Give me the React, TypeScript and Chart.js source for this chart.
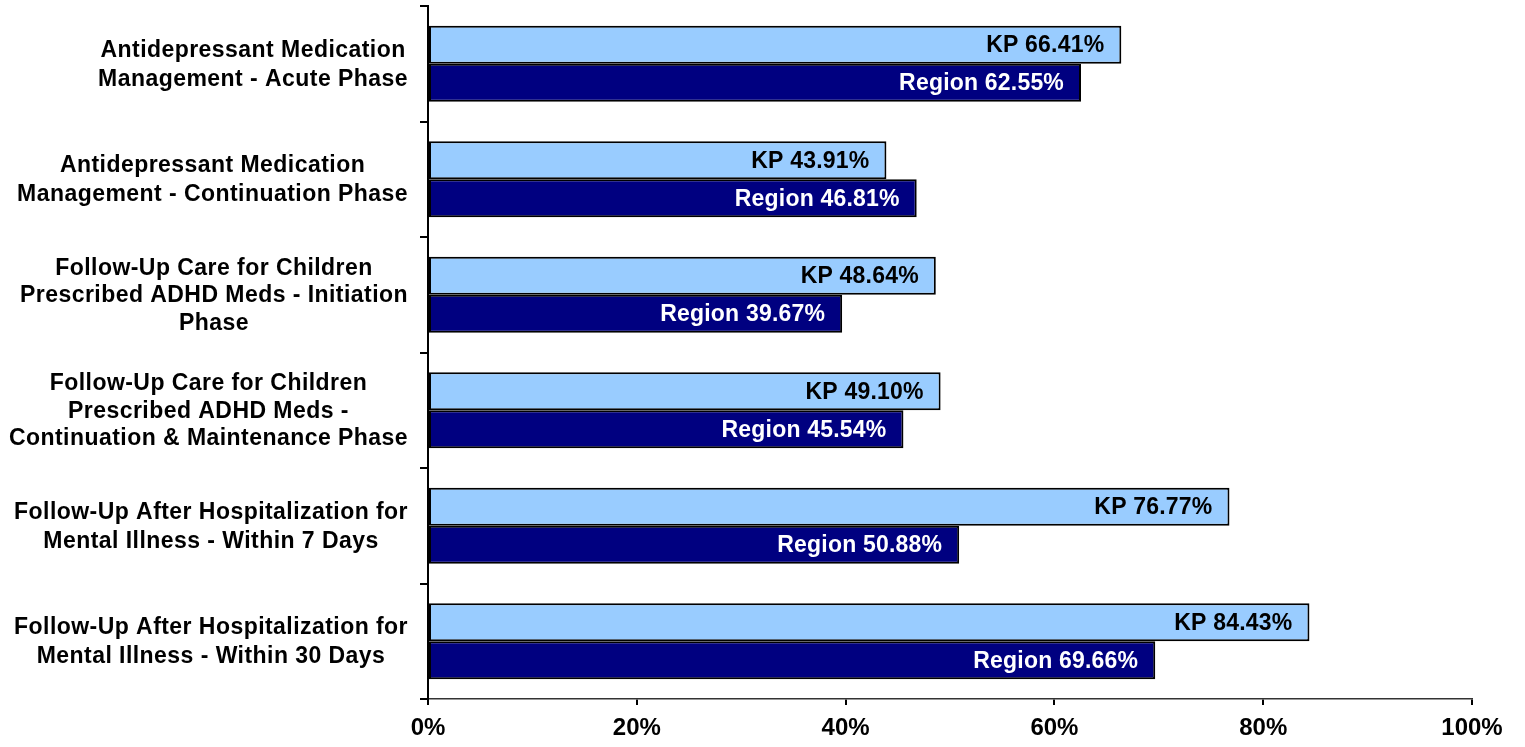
import React, { useEffect, useRef } from "react";
import { Chart, registerables } from "chart.js";

Chart.register(...registerables);

const categories: string[][] = [
  ["Antidepressant Medication", "Management - Acute Phase"],
  ["Antidepressant Medication", "Management - Continuation Phase"],
  ["Follow-Up Care for Children", "Prescribed ADHD Meds - Initiation", "Phase"],
  ["Follow-Up Care for Children", "Prescribed ADHD Meds -", "Continuation & Maintenance Phase"],
  ["Follow-Up After Hospitalization for", "Mental Illness - Within 7 Days"],
  ["Follow-Up After Hospitalization for", "Mental Illness - Within 30 Days"],
];

const kpValues = [66.41, 43.91, 48.64, 49.1, 76.77, 84.43];
const regionValues = [62.55, 46.81, 39.67, 45.54, 50.88, 69.66];
const seriesNames = ["KP", "Region"];
const xTicks = [0, 20, 40, 60, 80, 100];

const FONT = '"Liberation Sans", Arial, sans-serif';

const labelPlugin = {
  id: "customLabels",
  afterDatasetsDraw(chart: any) {
    const ctx = chart.ctx;
    ctx.save();
    ctx.font = `bold 23px ${FONT}`;
    try {
      (ctx as any).letterSpacing = "0.2px";
    } catch (e) {}
    ctx.textAlign = "right";
    ctx.textBaseline = "middle";
    chart.data.datasets.forEach((ds: any, di: number) => {
      const meta = chart.getDatasetMeta(di);
      meta.data.forEach((el: any, i: number) => {
        const v = ds.data[i] as number;
        ctx.fillStyle = di === 0 ? "#000000" : "#ffffff";
        ctx.fillText(`${seriesNames[di]} ${v.toFixed(2)}%`, el.x - 17, el.y + 1);
      });
    });
    ctx.restore();
  },
  afterDraw(chart: any) {
    const ctx = chart.ctx;
    const yScale = chart.scales.y;
    ctx.save();
    ctx.font = `bold 23px ${FONT}`;
    try {
      (ctx as any).letterSpacing = "0.45px";
    } catch (e) {}
    ctx.textAlign = "center";
    ctx.textBaseline = "middle";
    ctx.fillStyle = "#000000";
    categories.forEach((lines, i) => {
      const cy = yScale.getPixelForValue(i);
      const maxW = Math.max(...lines.map((l) => ctx.measureText(l).width));
      const cx = 408 - maxW / 2;
      const lh = lines.length === 3 ? 27.5 : 29;
      const startY = cy - ((lines.length - 1) * lh) / 2;
      lines.forEach((l, k) => {
        ctx.fillText(l, cx, startY + k * lh + 1);
      });
    });
    ctx.restore();
  },
};

export default function App() {
  const ref = useRef<HTMLCanvasElement | null>(null);

  useEffect(() => {
    if (!ref.current) return;
    const chart = new Chart(ref.current, {
      type: "bar",
      data: {
        labels: categories.map((c) => c.join(" ")),
        datasets: [
          {
            label: seriesNames[0],
            data: kpValues,
            backgroundColor: "#99CCFF",
            borderColor: "#000000",
            borderWidth: 2,
            borderSkipped: false,
            categoryPercentage: 0.658,
            barPercentage: 1,
          },
          {
            label: seriesNames[1],
            data: regionValues,
            backgroundColor: "#000080",
            borderColor: "#000000",
            borderWidth: 2,
            borderSkipped: false,
            categoryPercentage: 0.658,
            barPercentage: 1,
          },
        ],
      },
      options: {
        indexAxis: "y",
        animation: false,
        responsive: true,
        maintainAspectRatio: false,
        layout: { padding: { left: 0, top: 6, right: 53, bottom: 0 } },
        plugins: {
          legend: { display: false },
          tooltip: { enabled: false },
        },
        scales: {
          x: {
            min: 0,
            max: 100,
            afterBuildTicks: (scale: any) => {
              scale.ticks = xTicks.map((v) => ({ value: v }));
            },
            afterFit: (scale: any) => {
              scale.height = 48;
            },
            ticks: {
              callback: (v: any) => `${v}%`,
              font: { family: FONT, size: 24, weight: "bold" },
              color: "#000000",
              padding: 9,
              maxRotation: 0,
            },
            grid: {
              drawOnChartArea: false,
              drawTicks: true,
              tickLength: 6,
              color: "#000000",
              lineWidth: 2,
            },
            border: { display: true, color: "#333333", width: 1.5 },
          },
          y: {
            afterFit: (scale: any) => {
              scale.width = 428;
            },
            ticks: { display: false },
            grid: {
              drawOnChartArea: false,
              drawTicks: true,
              tickLength: 8,
              color: "#000000",
              lineWidth: 2,
              offset: true,
            },
            border: { display: true, color: "#000000", width: 2 },
          },
        },
      },
      plugins: [labelPlugin],
    });
    return () => chart.destroy();
  }, []);

  return (
    <div style={{ position: "fixed", left: 0, top: 0, width: 1525, height: 747, background: "#ffffff" }}>
      <canvas ref={ref} />
    </div>
  );
}
